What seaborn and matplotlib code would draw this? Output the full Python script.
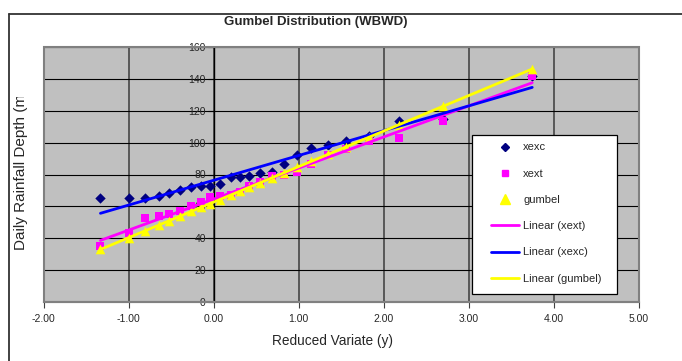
import numpy as np
import pandas as pd
import matplotlib
matplotlib.use("Agg")
import matplotlib.pyplot as plt
import seaborn as sns
from matplotlib.lines import Line2D
from matplotlib.patches import Rectangle
from matplotlib.transforms import Bbox

# ---- data ----
reduced_variate = [-1.33, -1.00, -0.81, -0.64, -0.52, -0.40, -0.26, -0.15, -0.04, 0.075,
                   0.20, 0.31, 0.42, 0.55, 0.69, 0.83, 0.98, 1.15, 1.35, 1.56,
                   1.83, 2.18, 2.70, 3.75]
xexc = [65.4, 65.4, 65.4, 66.5, 68.6, 70.5, 72.1, 72.6, 72.6, 74.2,
        78.4, 78.4, 79.2, 80.7, 81.3, 86.8, 92.0, 96.4, 98.5, 101.2,
        104.0, 113.8, 115.0, 142.0]
xext = [35.0, 43.5, 52.5, 54.2, 55.0, 57.0, 60.0, 62.7, 66.1, 66.5,
        67.0, 68.8, 73.0, 75.3, 79.0, 79.5, 81.5, 86.5, 92.5, 96.0,
        100.8, 102.7, 113.5, 142.0]
gumbel = [33.0, 40.3, 44.6, 48.3, 51.0, 53.7, 56.8, 59.3, 61.7, 64.3,
          67.1, 69.5, 72.0, 74.9, 78.0, 81.1, 84.4, 88.2, 92.7, 97.4,
          103.4, 111.2, 122.8, 146.2]
x_ticks = [-2, -1, 0, 1, 2, 3, 4, 5]
x_tick_labels = ["-2.00", "-1.00", "0.00", "1.00", "2.00", "3.00", "4.00", "5.00"]
y_ticks = [0, 20, 40, 60, 80, 100, 120, 140, 160]
series_names = ["xexc", "xext", "gumbel"]
fit_names = ["Linear (xext)", "Linear (xexc)", "Linear (gumbel)"]

# ---- style ----
sns.set_style("white")
plt.rcParams["font.family"] = ["Liberation Sans", "DejaVu Sans"]
plt.rcParams["axes.unicode_minus"] = False

W, H = 682, 361
fig = plt.figure(figsize=(W / 100, H / 100), dpi=100)
fig.patch.set_facecolor("white")
ax_l, ax_b, ax_w, ax_h = 43.5, 302, 595, 255
ax = fig.add_axes([ax_l / W, 1 - ax_b / H, ax_w / W, ax_h / H])
ax.set_facecolor("#C0C0C0")

df = pd.DataFrame({
    "y": reduced_variate * 3,
    "value": xexc + xext + gumbel,
    "series": [series_names[0]] * len(xexc) + [series_names[1]] * len(xext)
              + [series_names[2]] * len(gumbel),
})

colors = {"xexc": "#000080", "xext": "#FF00FF", "gumbel": "#FFFF00"}
markers = {"xexc": "D", "xext": "s", "gumbel": "^"}
sizes = {"xexc": 28, "xext": 30, "gumbel": 48}
for name in series_names:
    sub = df[df["series"] == name]
    sns.scatterplot(data=sub, x="y", y="value", marker=markers[name], color=colors[name],
                    s=sizes[name], linewidth=0, ax=ax, zorder=3, legend=False)

line_colors = {"xext": "#FF00FF", "xexc": "#0000FF", "gumbel": "#FFFF00"}
for name in ["xext", "xexc", "gumbel"]:
    sub = df[df["series"] == name]
    sns.regplot(data=sub, x="y", y="value", scatter=False, ci=None, truncate=True,
                line_kws={"color": line_colors[name], "lw": 2.0, "zorder": 4}, ax=ax)

ax.set_xlim(-2, 5)
ax.set_ylim(0, 160)
ax.set_xticks(x_ticks)
ax.set_xticklabels(x_tick_labels)
ax.set_yticks(y_ticks)
ax.set_yticklabels([str(v) for v in y_ticks])
ax.set_xlabel("")
ax.set_ylabel("")
ax.set_axisbelow(True)
ax.grid(axis="y", color="black", lw=0.8)
ax.grid(axis="x", color="#505050", lw=1.3)

for s in ["top", "right"]:
    ax.spines[s].set_visible(False)
ax.spines["left"].set_position(("data", 0))
ax.spines["left"].set_color("black")
ax.spines["left"].set_linewidth(1.0)
ax.spines["bottom"].set_color("#808080")
ax.spines["bottom"].set_linewidth(1.5)
ax.add_patch(Rectangle((0, 0), 1, 1, transform=ax.transAxes, fill=False,
                       edgecolor="#808080", lw=1.5, clip_on=False, zorder=5))

ax.tick_params(axis="y", direction="out", length=4, width=0.8, color="black",
               labelsize=7.5, pad=1.5, left=True)
ax.tick_params(axis="x", direction="out", length=4, width=0.8, color="#404040",
               labelsize=7.5, pad=5, bottom=True)

# legend box (pixel extents converted to axes fractions)
bx0, bx1, by0, by1 = 472, 617, 135, 294
ax.add_patch(Rectangle(((bx0 - ax_l) / ax_w, (ax_b - by1) / ax_h),
                       (bx1 - bx0) / ax_w, (by1 - by0) / ax_h,
                       transform=ax.transAxes, facecolor="white", edgecolor="black",
                       lw=0.9, zorder=9, clip_on=False))
handles = [
    Line2D([], [], marker="D", ls="", color="#000080", ms=4.5),
    Line2D([], [], marker="s", ls="", color="#FF00FF", ms=5),
    Line2D([], [], marker="^", ls="", color="#FFFF00", ms=6.5),
    Line2D([], [], color="#FF00FF", lw=2),
    Line2D([], [], color="#0000FF", lw=2),
    Line2D([], [], color="#FFFF00", lw=2),
]
labels = series_names + fit_names
leg = ax.legend(handles, labels, loc="upper left",
                bbox_to_anchor=((491 - ax_l) / ax_w, (ax_b - 142.5) / ax_h),
                frameon=False, fontsize=8, labelspacing=1.46, handlelength=2.52,
                handletextpad=0.36, borderpad=0, borderaxespad=0)
leg.set_zorder(10)

# texts
fig.text(316 / W, 1 - 22 / H, "Gumbel Distribution (WBWD)", ha="center", va="center",
         fontsize=9.5, fontweight="bold")
fig.text(332.5 / W, 1 - 341.5 / H, "Reduced Variate (y)", ha="center", va="center",
         fontsize=9.8)
yl = fig.text(21 / W, 1 - 250 / H, "Daily Rainfall Depth (mm)", rotation=90,
              rotation_mode="anchor", ha="left", va="center", fontsize=11)
yl.set_clip_box(Bbox.from_extents(0, 0, W, H - 97))
yl.set_clip_on(True)

# outer chart border
fig.add_artist(Line2D([8.5 / W, 1.05], [1 - 13.5 / H] * 2, color="#333333", lw=1.3))
fig.add_artist(Line2D([8.5 / W] * 2, [-0.05, 1 - 13.5 / H], color="#333333", lw=1.3))

fig.savefig("out.png", dpi=100)
